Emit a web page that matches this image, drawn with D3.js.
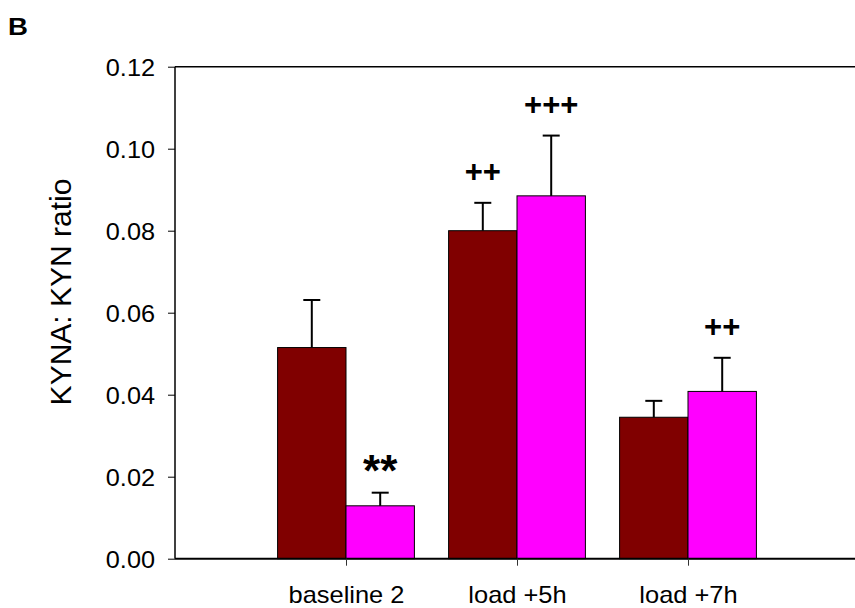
<!DOCTYPE html>
<html>
<head>
<meta charset="utf-8">
<script src="https://cdn.jsdelivr.net/npm/d3@7/dist/d3.min.js"></script>
<style>
  html, body { margin: 0; padding: 0; background: #fff; }
  svg { display: block; font-family: Arial, "Liberation Sans", sans-serif; }
</style>
</head>
<body>
<svg id="chart" width="855" height="608"></svg>
<script>
// KYNA:KYN ratio per time point, two groups per time point
const categories = ["baseline 2", "load +5h", "load +7h"];
const darkValues = [0.0515, 0.0800, 0.0345];
const darkErrors = [0.0116, 0.0068, 0.0040];
const pinkValues = [0.0129, 0.0885, 0.0408];
const pinkErrors = [0.0032, 0.0147, 0.0082];
const darkMarks = ["", "++", ""];
const pinkMarks = ["**", "+++", "++"];
const yTicks = [0, 0.02, 0.04, 0.06, 0.08, 0.10, 0.12];

const svg = d3.select("#chart");
const plotLeft = 175, plotTop = 66.7, plotBottom = 558.7;

const y = d3.scaleLinear().domain([0, 0.12]).range([plotBottom, plotTop]);
// category positions 1..3 on a 0..4 slot axis (right side runs off the page)
const x = d3.scaleLinear().domain([0, 4]).range([plotLeft, 859]);
const barW = (x(1) - x(0)) * 0.4;

const series = [
  { values: darkValues, errors: darkErrors, marks: darkMarks, color: "#800000", offset: -1 },
  { values: pinkValues, errors: pinkErrors, marks: pinkMarks, color: "#ff00ff", offset: 0 }
];

// bars
series.forEach(s => {
  const g = svg.append("g");
  g.selectAll("rect").data(s.values).join("rect")
    .attr("x", (d, i) => x(i + 1) + s.offset * barW)
    .attr("y", d => y(d))
    .attr("width", barW)
    .attr("height", d => y(0) - y(d))
    .attr("fill", s.color)
    .attr("stroke", "#000")
    .attr("stroke-width", 1);

  // upward error bars
  const eg = svg.append("g").attr("stroke", "#000").attr("stroke-width", 2);
  s.values.forEach((v, i) => {
    const cx = x(i + 1) + s.offset * barW + barW / 2;
    const yt = y(v + s.errors[i]);
    eg.append("line").attr("x1", cx).attr("x2", cx).attr("y1", y(v)).attr("y2", yt);
    eg.append("line").attr("x1", cx - 8.5).attr("x2", cx + 8.5).attr("y1", yt).attr("y2", yt);
  });

  // significance markers above the error bars
  s.values.forEach((v, i) => {
    const m = s.marks[i];
    if (!m) return;
    const cx = x(i + 1) + s.offset * barW + barW / 2;
    const cy = y(v + s.errors[i]) - 32;
    const star = m.includes("*");
    svg.append("text")
      .attr("x", cx)
      .attr("y", star ? cy + 25 : cy + 11)
      .attr("text-anchor", "middle")
      .attr("font-weight", "bold")
      .attr("font-size", star ? 44 : 31)
      .attr("fill", "#000")
      .text(m);
  });
});

// left axis with outward ticks
const yAxis = svg.append("g")
  .attr("transform", `translate(${plotLeft},0)`)
  .call(d3.axisLeft(y).tickValues(yTicks).tickSize(7).tickPadding(0).tickFormat(d3.format(".2f")));
yAxis.select(".domain").attr("stroke", "#000").attr("stroke-width", 1.5)
  .attr("d", `M0,${plotTop}V${plotBottom}`);
yAxis.selectAll(".tick line").attr("stroke", "#000").attr("stroke-width", 1);
yAxis.selectAll(".tick text").remove();
yAxis.selectAll(".tick").append("text")
  .attr("transform", "translate(-20,8.3) scale(1.1,1)")
  .attr("text-anchor", "end")
  .attr("font-size", 23)
  .attr("fill", "#000")
  .text(d => d3.format(".2f")(d));

// bottom axis
const xAxis = svg.append("g")
  .attr("transform", `translate(0,${plotBottom})`)
  .call(d3.axisBottom(x).tickValues([1, 2, 3]).tickSize(7).tickFormat(""));
xAxis.select(".domain").attr("stroke", "#000").attr("stroke-width", 2)
  .attr("d", `M${plotLeft},0H860`);
xAxis.selectAll(".tick line").attr("stroke", "#333").attr("stroke-width", 1);
xAxis.selectAll(".tick").append("text")
  .attr("transform", "translate(0,44.5) scale(1.06,1)")
  .attr("text-anchor", "middle")
  .attr("font-size", 24)
  .attr("fill", "#000")
  .text(d => categories[d - 1]);

// top frame line
svg.append("line")
  .attr("x1", plotLeft).attr("x2", 860)
  .attr("y1", plotTop).attr("y2", plotTop)
  .attr("stroke", "#000").attr("stroke-width", 1.5);

// y axis title
svg.append("text")
  .attr("transform", `translate(70.5,${(177 + 407) / 2}) rotate(-90)`)
  .attr("text-anchor", "middle")
  .attr("font-size", 30)
  .attr("fill", "#000")
  .text("KYNA: KYN ratio");

// panel letter
svg.append("text")
  .attr("transform", "translate(8,35) scale(1.2,1)")
  .attr("font-size", 23)
  .attr("font-weight", "bold")
  .attr("fill", "#000")
  .text("B");
</script>
</body>
</html>
